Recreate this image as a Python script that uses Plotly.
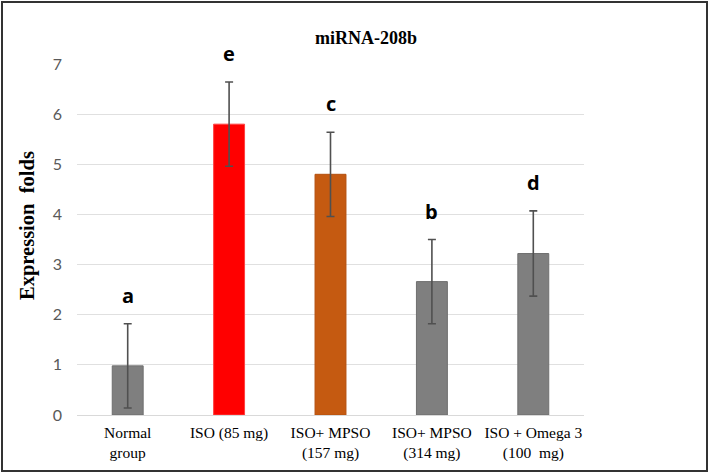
import plotly.graph_objects as go

categories = ["Normal<br>group", "ISO (85 mg)", "ISO+ MPSO<br>(157 mg)", "ISO+ MPSO<br>(314 mg)", "ISO + Omega 3<br>(100  mg)"]
values = [0.98, 5.80, 4.80, 2.66, 3.22]
errors = [0.84, 0.84, 0.84, 0.84, 0.85]
letters = ["a", "e", "c", "b", "d"]
colors = ["#7f7f7f", "#ff0000", "#c55a11", "#7f7f7f", "#7f7f7f"]
line_colors = ["#6f6f6f", "#ff4040", "#b5500f", "#6f6f6f", "#6f6f6f"]
yticks = [0, 1, 2, 3, 4, 5, 6, 7]

L, R, T, B = 77, 584, 64, 415
fig = go.Figure()
fig.add_trace(go.Bar(
    x=categories, y=values,
    marker=dict(color=colors, line=dict(color=line_colors, width=1)),
    width=0.305,
    error_y=dict(type="data", array=errors, visible=True, color="#505050", thickness=1.6, width=4),
    showlegend=False, hoverinfo="skip",
))

for c, v, e, t in zip(categories, values, errors, letters):
    fig.add_annotation(x=c, y=v + e, text=t, showarrow=False, yanchor="bottom", yshift=13,
                       font=dict(family="Open Sans, Lato, sans-serif", size=20, color="#000000", weight="bold"))

fig.add_annotation(xref="paper", yref="paper", x=(27 - L) / (R - L), y=(B - 226) / (B - T),
                   text="<b>Expression  folds</b>", textangle=-90, showarrow=False,
                   xanchor="center", yanchor="middle",
                   font=dict(family="Liberation Serif, Times New Roman, serif", size=20.5, color="#000000"))

fig.update_layout(
    width=710, height=474,
    margin=dict(l=L, r=710 - R, t=T, b=474 - B, autoexpand=False),
    paper_bgcolor="white", plot_bgcolor="white",
    title=dict(text="<b>miRNA-208b</b>", x=366 / 710, xref="container", xanchor="center",
               y=1 - 38 / 474, yanchor="middle",
               font=dict(family="Liberation Serif, Times New Roman, serif", size=18, color="#000000")),
    bargap=0.7,
)
fig.update_xaxes(
    showline=True, linecolor="#d9d9d9", linewidth=1, ticks="", automargin=False,
    ticklabelstandoff=3,
    tickfont=dict(family="Liberation Serif, Times New Roman, serif", size=15.5, color="#000000"),
)
fig.update_yaxes(
    range=[0, 7], tickvals=yticks, showgrid=True, gridcolor="#e0e0e0", gridwidth=1,
    zeroline=False, showline=False, ticks="", ticklen=0, automargin=False,
    ticklabelstandoff=14,
    tickfont=dict(family="Lato, Open Sans, sans-serif", size=16, color="#595959"),
)

# outer frame
fig.add_shape(type="rect", xref="paper", yref="paper",
              x0=(2 - L) / (R - L), x1=(707 - L) / (R - L),
              y0=(B - 471) / (B - T), y1=(B - 2) / (B - T),
              line=dict(color="#333333", width=2), fillcolor="rgba(0,0,0,0)", layer="above")

fig.write_html("out.html", config={"displayModeBar": False},
               post_script="document.body.style.margin='0px';document.body.style.padding='0px';"
                           "document.documentElement.style.overflow='hidden';")
